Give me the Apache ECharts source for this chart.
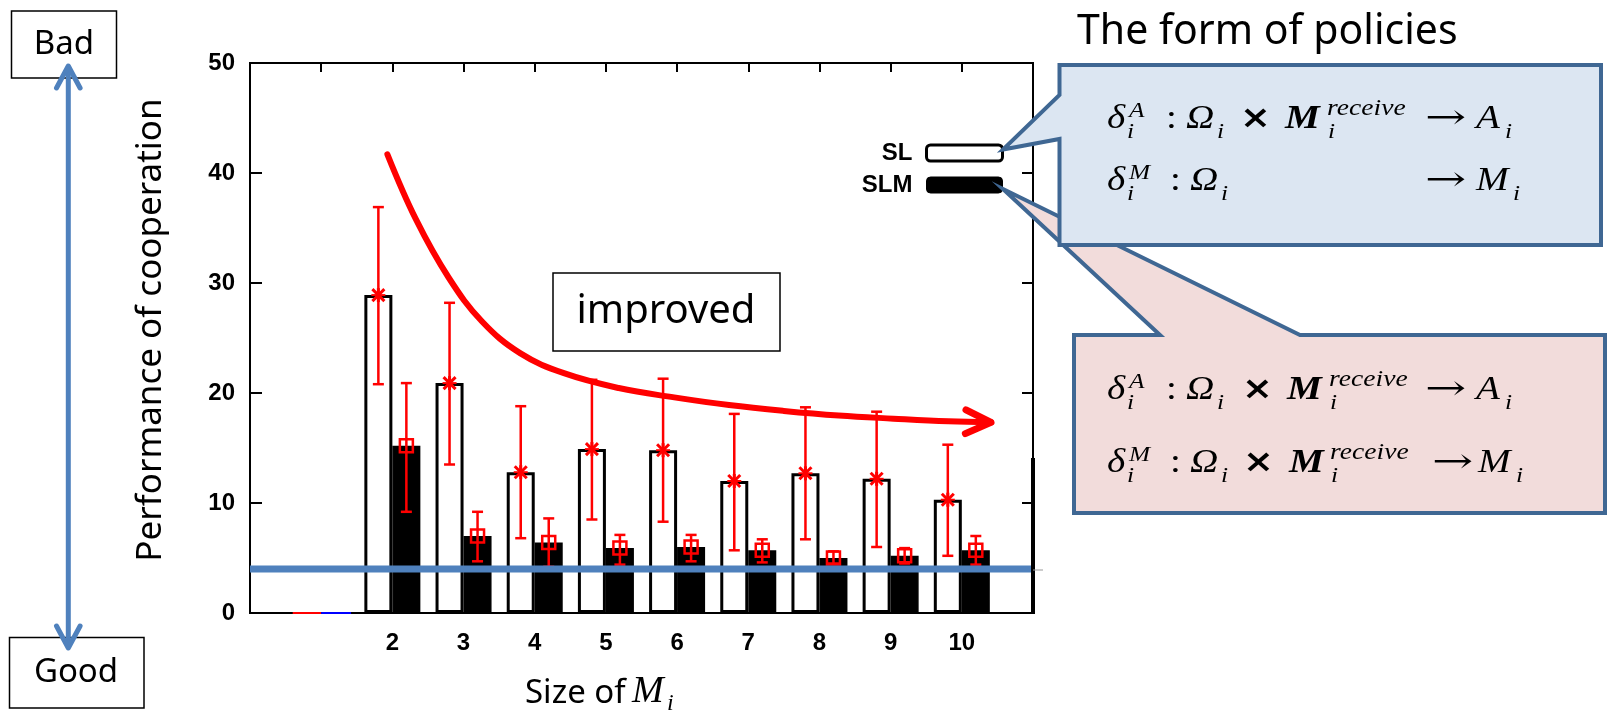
<!DOCTYPE html>
<html>
<head>
<meta charset="utf-8">
<script src="https://cdn.jsdelivr.net/npm/echarts@6/dist/echarts.min.js"></script>
<style>
html,body{margin:0;padding:0;background:#fff;}
#chart{width:1608px;height:716px;}
</style>
</head>
<body>
<div id="chart"></div>
<script>
// ---------- data ----------
const sizes    = [2, 3, 4, 5, 6, 7, 8, 9, 10];
const slMean   = [28.9, 20.9, 12.8, 14.9, 14.8, 12.0, 12.7, 12.2, 10.3];
const slLow    = [20.8, 13.5, 6.8, 8.5, 8.3, 5.7, 6.7, 6.0, 5.2];
const slHigh   = [36.9, 28.2, 18.8, 21.2, 21.3, 18.1, 18.7, 18.3, 15.3];
const slmMean  = [15.2, 7.0, 6.4, 5.9, 6.0, 5.7, 5.0, 5.2, 5.7];
const slmLow   = [9.2, 4.7, 4.2, 4.4, 4.7, 4.6, 4.5, 4.5, 4.4];
const slmHigh  = [20.9, 9.2, 8.6, 7.1, 7.1, 6.7, 5.6, 5.9, 7.0];
const baseRed  = [[0.6, 0], [1, 0]];
const baseBlue = [[1, 0], [1.42, 0]];
const refLevel = 4;
const trendX = [1.93, 2.33, 2.79, 3.26, 3.80, 4.41, 5.18, 5.96, 6.73, 7.50, 8.27, 9.04, 9.81, 10.41];
const trendY = [41.7, 35.8, 30.5, 26.5, 23.6, 21.8, 20.45, 19.6, 18.9, 18.37, 17.95, 17.67, 17.43, 17.33];
const yTicks = [0, 10, 20, 30, 40, 50];
const xLabelsShown = [2, 3, 4, 5, 6, 7, 8, 9, 10];

// ---------- helpers ----------
const RED = '#FF0000';
const BLUE = '#4F81BD';
const OUTLINE = '#3F6793';
const SERIF = '"Liberation Serif", "DejaVu Serif", serif';
const ARROWF = '"DejaVu Serif", "Liberation Serif", serif';
const SANS = '"Noto Sans", "Open Sans", sans-serif';
const BOLDSANS = '"Liberation Sans", Arial, sans-serif';
const MAIN = 34, SUB = 22, SX = 1.15;

function tok(x, base, t) {
  const s = t.s || MAIN;
  return {
    type: 'text', x: x, y: base + (t.dy || 0) - 0.34 * s, scaleX: t.sx || SX, z: 20,
    style: {
      text: t.t, fontFamily: t.f || SERIF, fontSize: s,
      fontStyle: t.it === false ? 'normal' : 'italic',
      fontWeight: t.b ? 'bold' : 'normal',
      fill: '#000', align: 'left', verticalAlign: 'middle'
    }
  };
}
function formula(base, tokens) { return tokens.map(t => tok(t.x, base, t)); }

const TIMES_F = '"DejaVu Sans", sans-serif';
const lineA = (ox) => [
  {t: 'δ', x: 1107}, {t: 'A', x: 1129, s: SUB, dy: -12}, {t: 'i', x: 1127, s: SUB, dy: 9},
  {t: ':', x: 1166, it: false}, {t: 'Ω', x: 1186}, {t: 'i', x: 1217, s: SUB, dy: 9},
  {t: '×', x: 1240 + ox, f: TIMES_F, b: true, it: false, s: 32},
  {t: 'M', x: 1285 + ox, b: true}, {t: 'receive', x: 1327 + ox, s: 24, dy: -14},
  {t: 'i', x: 1328 + ox, s: SUB, dy: 9},
  {t: '→', x: 1425, f: ARROWF, it: false, sx: 1.45}, {t: 'A', x: 1476}, {t: 'i', x: 1505, s: SUB, dy: 9}
];

function textEl(x, y, text, size, opts) {
  opts = opts || {};
  return {
    type: 'text', x: x, y: y, rotation: opts.rot || 0, z: 20,
    style: {
      text: text, fontFamily: opts.f || SANS, fontSize: size,
      fontStyle: opts.it ? 'italic' : 'normal', fontWeight: opts.b ? 'bold' : 'normal',
      fill: '#000', align: opts.align || 'center', verticalAlign: 'middle'
    }
  };
}

const graphics = [
  // Bad / Good boxes
  {type: 'rect', shape: {x: 11.5, y: 11, width: 105, height: 67}, style: {fill: '#fff', stroke: '#000', lineWidth: 1.5}, z: 10},
  textEl(64, 45, 'Bad', 33),
  {type: 'rect', shape: {x: 9.5, y: 637.5, width: 134.5, height: 70.5}, style: {fill: '#fff', stroke: '#000', lineWidth: 1.5}, z: 10},
  textEl(76, 673, 'Good', 33),
  // double arrow
  {type: 'polyline', shape: {points: [[68.3, 68], [68.3, 645]]}, style: {stroke: BLUE, lineWidth: 5}, z: 12},
  {type: 'polyline', shape: {points: [[56.5, 88], [68.3, 66], [80.1, 88]]}, style: {stroke: BLUE, lineWidth: 5, fill: null, lineJoin: 'round', lineCap: 'round'}, z: 12},
  {type: 'polyline', shape: {points: [[56.5, 626], [68.3, 648], [80.1, 626]]}, style: {stroke: BLUE, lineWidth: 5, fill: null, lineJoin: 'round', lineCap: 'round'}, z: 12},
  // axis titles
  textEl(151, 330, 'Performance of cooperation', 35, {rot: Math.PI / 2}),
  textEl(525, 694, 'Size of ', 33, {align: 'left'}),
  textEl(632, 692, 'M', 38, {f: SERIF, it: true, align: 'left'}),
  textEl(667, 704, 'i', 24, {f: SERIF, it: true, align: 'left'}),
  // improved box
  {type: 'rect', shape: {x: 553, y: 273, width: 227, height: 78}, style: {fill: '#fff', stroke: '#000', lineWidth: 1.5}, z: 10},
  textEl(666, 312, 'improved', 40),
  // right-edge artifact
  {type: 'polyline', shape: {points: [[1033, 458], [1033, 614]]}, style: {stroke: '#000', lineWidth: 4}, z: 9},
  {type: 'polyline', shape: {points: [[1033, 570], [1043, 570]]}, style: {stroke: '#999', lineWidth: 1}, z: 9},
  // title
  textEl(1077, 32, 'The form of policies', 41, {align: 'left'}),
  // pink callout (under)
  {type: 'polygon', shape: {points: [[1074, 335], [1160, 335], [1003, 189], [1300, 335], [1605, 335], [1605, 513], [1074, 513]]},
   style: {fill: '#F2DCDB', stroke: OUTLINE, lineWidth: 4, lineJoin: 'miter'}, z: 14},
  // blue callout
  {type: 'polygon', shape: {points: [[1059.5, 65], [1601, 65], [1601, 245], [1059.5, 245], [1059.5, 139], [1003, 149.5], [1059.5, 95]]},
   style: {fill: '#DCE6F2', stroke: OUTLINE, lineWidth: 4, lineJoin: 'miter'}, z: 15}
]
.concat(formula(131, lineA(0)))
.concat(formula(193, [
  {t: 'δ', x: 1107}, {t: 'M', x: 1129, s: SUB, dy: -12}, {t: 'i', x: 1127, s: SUB, dy: 9},
  {t: ':', x: 1170, it: false}, {t: 'Ω', x: 1190}, {t: 'i', x: 1221, s: SUB, dy: 9},
  {t: '→', x: 1425, f: ARROWF, it: false, sx: 1.45}, {t: 'M', x: 1476}, {t: 'i', x: 1513, s: SUB, dy: 9}
]))
.concat(formula(402, lineA(2)))
.concat(formula(475, [
  {t: 'δ', x: 1107}, {t: 'M', x: 1129, s: SUB, dy: -12}, {t: 'i', x: 1127, s: SUB, dy: 9},
  {t: ':', x: 1170, it: false}, {t: 'Ω', x: 1190}, {t: 'i', x: 1221, s: SUB, dy: 9},
  {t: '×', x: 1243, f: TIMES_F, b: true, it: false, s: 32},
  {t: 'M', x: 1289, b: true}, {t: 'receive', x: 1330, s: 24, dy: -14},
  {t: 'i', x: 1331, s: SUB, dy: 9},
  {t: '→', x: 1432, f: ARROWF, it: false, sx: 1.45}, {t: 'M', x: 1478}, {t: 'i', x: 1516, s: SUB, dy: 9}
]));

// ---------- error bars / markers ----------
function errRender(side, marker) {
  return function (params, api) {
    const x = api.value(0);
    const pm = api.coord([x, api.value(1)]);
    const pl = api.coord([x, api.value(2)]);
    const ph = api.coord([x, api.value(3)]);
    const cx = pm[0] + side * 14;
    const cy = pm[1];
    const st = {stroke: RED, lineWidth: 2.5, fill: null};
    const cap = 5.5;
    const ch = [
      {type: 'line', shape: {x1: cx, y1: pl[1], x2: cx, y2: ph[1]}, style: st},
      {type: 'line', shape: {x1: cx - cap, y1: pl[1], x2: cx + cap, y2: pl[1]}, style: st},
      {type: 'line', shape: {x1: cx - cap, y1: ph[1], x2: cx + cap, y2: ph[1]}, style: st}
    ];
    if (marker === 'star') {
      const r = 7, d = 6;
      const ms = {stroke: RED, lineWidth: 3, fill: null};
      ch.push({type: 'line', shape: {x1: cx, y1: cy - r, x2: cx, y2: cy + r}, style: ms});
      ch.push({type: 'line', shape: {x1: cx - d, y1: cy - d, x2: cx + d, y2: cy + d}, style: ms});
      ch.push({type: 'line', shape: {x1: cx - d, y1: cy + d, x2: cx + d, y2: cy - d}, style: ms});
      ch.push({type: 'line', shape: {x1: cx - r, y1: cy, x2: cx + r, y2: cy}, style: {stroke: RED, lineWidth: 2, fill: null}});
    } else {
      ch.push({type: 'rect', shape: {x: cx - 6.5, y: cy - 6.5, width: 13, height: 13}, style: {stroke: RED, lineWidth: 2.5, fill: null}});
    }
    return {type: 'group', children: ch};
  };
}

const option = {
  animation: false,
  backgroundColor: '#fff',
  grid: {left: 250, right: 575, top: 63, bottom: 103, show: true, borderColor: '#000', borderWidth: 2, backgroundColor: 'transparent', z: 1},
  legend: {
    orient: 'vertical', align: 'right', right: 604, top: 141, padding: 0,
    itemWidth: 76, itemHeight: 16, itemGap: 8, icon: 'roundRect',
    textStyle: {fontFamily: BOLDSANS, fontWeight: 'bold', fontSize: 24, lineHeight: 24, color: '#000', padding: [0, 9, 0, 0]},
    data: [
      {name: 'SL', itemStyle: {color: '#fff', borderColor: '#000', borderWidth: 3}},
      {name: 'SLM', itemStyle: {color: '#000', borderColor: '#000', borderWidth: 1}}
    ]
  },
  xAxis: [
    {type: 'value', min: 0, max: 11, interval: 1, position: 'bottom',
     axisLine: {show: false, onZero: false}, axisTick: {show: false}, splitLine: {show: false},
     axisLabel: {margin: 18, fontFamily: BOLDSANS, fontWeight: 'bold', fontSize: 24, color: '#000',
       formatter: v => xLabelsShown.indexOf(v) >= 0 ? String(v) : ''}},
    {type: 'value', min: 0, max: 11, interval: 1, position: 'top',
     axisLine: {show: false, onZero: false}, splitLine: {show: false}, axisLabel: {show: false},
     axisTick: {show: true, inside: true, length: 9, lineStyle: {color: '#000', width: 2}}}
  ],
  yAxis: [
    {type: 'value', position: 'left', min: yTicks[0], max: yTicks[yTicks.length - 1], interval: 10,
     axisLine: {show: false, onZero: false}, splitLine: {show: false},
     axisTick: {show: true, inside: true, length: 12, lineStyle: {color: '#000', width: 2}},
     axisLabel: {margin: 15, fontFamily: BOLDSANS, fontWeight: 'bold', fontSize: 24, color: '#000'}},
    {type: 'value', position: 'right', min: yTicks[0], max: yTicks[yTicks.length - 1], interval: 10,
     axisLine: {show: false, onZero: false}, splitLine: {show: false}, axisLabel: {show: false},
     axisTick: {show: true, inside: true, length: 11, lineStyle: {color: '#000', width: 2}}}
  ],
  series: [
    {name: 'SL', type: 'bar', barWidth: 28, barGap: '0%', z: 2,
     data: sizes.map((s, i) => [s, slMean[i]]),
     itemStyle: {color: '#fff', borderColor: '#000', borderWidth: 3}},
    {name: 'SLM', type: 'bar', barWidth: 28, barGap: '0%', z: 2,
     data: sizes.map((s, i) => [s, slmMean[i]]),
     itemStyle: {color: '#000', borderColor: '#000', borderWidth: 1.5}},
    {name: 'baseRed', type: 'line', data: baseRed, symbol: 'none', z: 3, lineStyle: {color: RED, width: 2}},
    {name: 'baseBlue', type: 'line', data: baseBlue, symbol: 'none', z: 3, lineStyle: {color: '#0000FF', width: 2}},
    {name: 'SL err', type: 'custom', z: 4, renderItem: errRender(-1, 'star'),
     encode: {x: 0, y: [1, 2, 3]},
     data: sizes.map((s, i) => [s, slMean[i], slLow[i], slHigh[i]])},
    {name: 'SLM err', type: 'custom', z: 4, renderItem: errRender(1, 'square'),
     encode: {x: 0, y: [1, 2, 3]},
     data: sizes.map((s, i) => [s, slmMean[i], slmLow[i], slmHigh[i]])},
    {name: 'ref', type: 'line', symbol: 'none', z: 6,
     data: [[0, refLevel], [11, refLevel]], lineStyle: {color: BLUE, width: 7}},
    {name: 'trend', type: 'line', symbol: 'none', smooth: 0.4, z: 7,
     data: trendX.map((x, i) => [x, trendY[i]]),
     lineStyle: {color: RED, width: 6, cap: 'round'}},
    {name: 'trendHead', type: 'custom', z: 7,
     encode: {x: 0, y: 1},
     data: [[trendX[trendX.length - 1], trendY[trendY.length - 1], trendX[trendX.length - 2], trendY[trendY.length - 2]]],
     renderItem: function (params, api) {
       const p1 = api.coord([api.value(0), api.value(1)]);
       const p0 = api.coord([api.value(2), api.value(3)]);
       const a = Math.atan2(p1[1] - p0[1], p1[0] - p0[0]);
       const L = 28, th = 0.44;
       const pA = [p1[0] - L * Math.cos(a - th), p1[1] - L * Math.sin(a - th)];
       const pB = [p1[0] - L * Math.cos(a + th), p1[1] - L * Math.sin(a + th)];
       return {type: 'polyline', shape: {points: [pA, p1, pB]},
               style: {stroke: RED, lineWidth: 7, fill: null, lineCap: 'round', lineJoin: 'round'}};
     }}
  ],
  graphic: graphics
};

const chart = echarts.init(document.getElementById('chart'), null, {renderer: 'canvas'});
chart.setOption(option);
</script>
</body>
</html>
